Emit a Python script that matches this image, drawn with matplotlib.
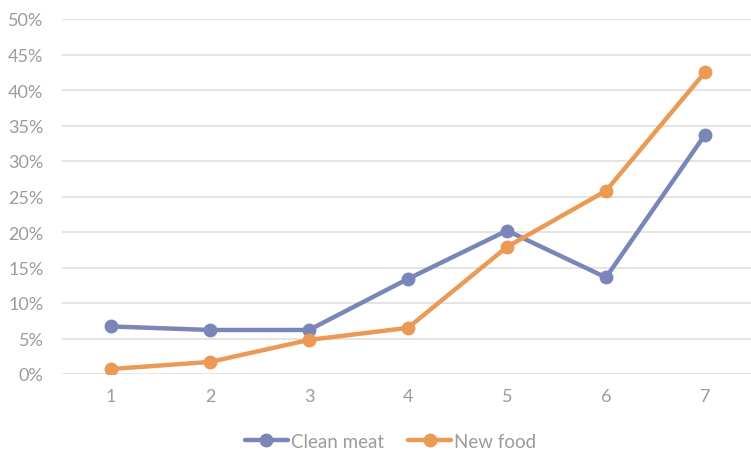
import matplotlib
matplotlib.use("Agg")
import matplotlib.pyplot as plt
from matplotlib.ticker import FuncFormatter

categories = ["1", "2", "3", "4", "5", "6", "7"]
clean_meat = [6.7, 6.2, 6.2, 13.4, 20.2, 13.6, 33.7]
new_food = [0.7, 1.7, 4.8, 6.5, 17.9, 25.8, 42.5]

plt.rcParams['font.family'] = ['Lato', 'DejaVu Sans']
text_color = '#a09a98'
grid_color = '#e2dede'
c_blue = '#7a86b8'
c_orange = '#eb9a55'

fig = plt.figure(figsize=(7.51, 4.52), dpi=100)
ax = fig.add_axes([61.5/751, 77/452, 693/751, 355/452])

x = list(range(len(categories)))
ax.plot(x, clean_meat, color=c_blue, lw=3.2, marker='o', ms=9, label='Clean meat', solid_capstyle='round')
ax.plot(x, new_food, color=c_orange, lw=3.2, marker='o', ms=9, label='New food', solid_capstyle='round')

ax.set_xlim(-0.5, len(categories) - 0.5)
ax.set_ylim(0, 50)
ax.set_yticks(range(0, 51, 5))
ax.yaxis.set_major_formatter(FuncFormatter(lambda v, p: f"{int(v)}%"))
ax.set_xticks(x)
ax.set_xticklabels(categories)
ax.grid(axis='y', color=grid_color, lw=1.2)
ax.set_axisbelow(True)
for s in ax.spines.values():
    s.set_visible(False)
ax.tick_params(length=0, colors=text_color, labelsize=13)
ax.tick_params(axis='y', pad=13)
ax.tick_params(axis='x', pad=10)

leg = fig.legend(loc='lower center', bbox_to_anchor=(0.52, -0.035), ncol=2, frameon=False,
                 fontsize=13.5, handlelength=2.3, handletextpad=0.15, columnspacing=1.3)
for t in leg.get_texts():
    t.set_color(text_color)

fig.savefig('out.png', dpi=100)
